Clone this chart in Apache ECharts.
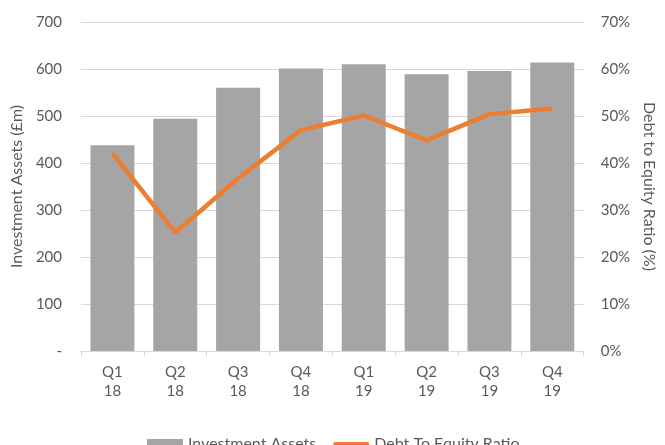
<!DOCTYPE html>
<html>
<head>
<meta charset="utf-8">
<script src="https://cdn.jsdelivr.net/npm/echarts@6/dist/echarts.min.js"></script>
<style>
  html, body { margin: 0; padding: 0; background: #fff; }
  #chart { width: 665px; height: 445px; }
</style>
</head>
<body>
<div id="chart"></div>
<script>
const quarters = ['Q1\n18', 'Q2\n18', 'Q3\n18', 'Q4\n18', 'Q1\n19', 'Q2\n19', 'Q3\n19', 'Q4\n19'];
const investmentAssets = [438, 494, 560, 601, 610, 589, 596, 614];
const debtToEquity = [42.1, 25.2, 36.7, 47.0, 50.1, 44.8, 50.4, 51.6];

const textColor = '#595959';
const font = 'Lato';

const myChart = echarts.init(document.getElementById('chart'));
const option = {
  animation: false,
  textStyle: { fontFamily: font, color: textColor },
  grid: { left: 81, right: 70, top: 22, bottom: 94 },
  legend: {
    top: 431,
    left: 142,
    itemWidth: 36,
    itemHeight: 10,
    itemGap: 17,
    textStyle: { fontFamily: font, fontSize: 16, color: textColor },
    data: [
      { name: 'Investment Assets', icon: 'rect' },
      { name: 'Debt To Equity Ratio', icon: 'path://M2,0h34a2,2 0 0 1 0,4h-34a2,2 0 0 1 0,-4z' }
    ]
  },
  xAxis: {
    type: 'category',
    data: quarters,
    axisLine: { lineStyle: { color: '#d9d9d9' } },
    axisTick: { show: true, length: 5, lineStyle: { color: '#d9d9d9' } },
    axisLabel: { color: textColor, fontSize: 15, lineHeight: 19, margin: 12, fontFamily: font }
  },
  yAxis: [
    {
      type: 'value',
      min: 0,
      max: 700,
      interval: 100,
      name: 'Investment Assets (£m)',
      nameLocation: 'middle',
      nameGap: 56,
      nameTextStyle: { fontSize: 16, color: textColor, fontFamily: font },
      axisLine: { show: false },
      axisTick: { show: false },
      splitLine: { lineStyle: { color: '#d9d9d9' } },
      axisLabel: {
        color: textColor, fontSize: 15, margin: 19, fontFamily: font,
        formatter: v => v === 0 ? '-' : String(v)
      }
    },
    {
      type: 'value',
      min: 0,
      max: 70,
      interval: 10,
      position: 'right',
      name: 'Debt to Equity Ratio (%)',
      nameLocation: 'middle',
      nameRotate: -90,
      nameGap: 52,
      nameTextStyle: { fontSize: 16, color: textColor, fontFamily: font },
      axisLine: { show: false },
      axisTick: { show: false },
      splitLine: { show: false },
      axisLabel: { color: textColor, fontSize: 15, margin: 17, fontFamily: font, formatter: '{value}%' }
    }
  ],
  series: [
    {
      name: 'Investment Assets',
      type: 'bar',
      data: investmentAssets,
      barCategoryGap: '30%',
      itemStyle: { color: '#a5a5a5' }
    },
    {
      name: 'Debt To Equity Ratio',
      type: 'line',
      yAxisIndex: 1,
      data: debtToEquity,
      symbol: 'none',
      lineStyle: { color: '#ed7d31', width: 4.5 },
      itemStyle: { color: '#ed7d31' }
    }
  ]
};
myChart.setOption(option);
</script>
</body>
</html>
